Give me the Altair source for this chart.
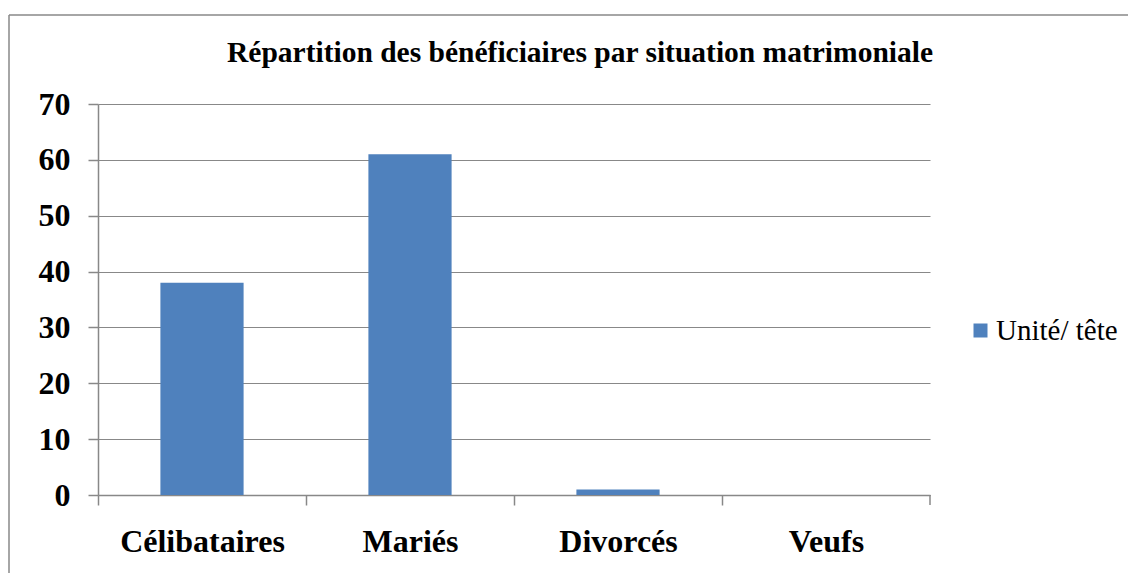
import altair as alt
import pandas as pd

categories = ["Célibataires", "Mariés", "Divorcés", "Veufs"]
values = [38, 61, 1, 0]
series = ["Unité/ tête"] * 4
title_text = "Répartition des bénéficiaires par situation matrimoniale"

df = pd.DataFrame({"cat": categories, "val": values, "serie": series})

GRAY = "#888888"
FONT = "Liberation Serif"

bars = alt.Chart(df).mark_bar(color="#4F81BD").encode(
    x=alt.X("cat:N", sort=categories,
            scale=alt.Scale(paddingInner=0.6, paddingOuter=0.3),
            axis=alt.Axis(title=None, labelAngle=0, tickOffset=-104, labelOffset=104,
                          labelFont=FONT, labelFontSize=32, labelFontWeight="bold",
                          labelColor="black", labelPadding=21, tickSize=10,
                          tickColor=GRAY, domainColor=GRAY, tickWidth=1.5,
                          domainWidth=1.5)),
    y=alt.Y("val:Q", scale=alt.Scale(domain=[0, 70]),
            axis=alt.Axis(title=None, values=[0, 10, 20, 30, 40, 50, 60, 70],
                          labelFont=FONT, labelFontSize=32, labelFontWeight="bold",
                          labelColor="black", labelPadding=18, tickSize=10,
                          tickColor=GRAY, domainColor=GRAY, gridColor=GRAY,
                          tickWidth=1.5, domainWidth=1.5, gridWidth=1.2)),
    color=alt.Color("serie:N", scale=alt.Scale(range=["#4F81BD"]),
                    legend=alt.Legend(title=None, orient="none", legendX=868,
                                      legendY=212, symbolType="square",
                                      symbolSize=196, symbolStrokeWidth=0,
                                      labelFont=FONT, labelFontSize=29,
                                      labelFontWeight="normal",
                                      labelColor="black", padding=0,
                                      labelOffset=1)),
)

end_tick = alt.Chart(pd.DataFrame({"a": [0]})).mark_rule(color=GRAY, strokeWidth=1.5).encode(
    x=alt.value(832), y=alt.value(391), y2=alt.value(401)
)
border = alt.Chart(pd.DataFrame({"a": [0]})).mark_rule(color=GRAY, strokeWidth=1.5).encode(
    x=alt.value(-89), y=alt.value(-89), y2=alt.value(700)
)
border_top = alt.Chart(pd.DataFrame({"a": [0]})).mark_rule(color=GRAY, strokeWidth=1.5).encode(
    x=alt.value(-89), x2=alt.value(1200), y=alt.value(-89)
)

chart = alt.layer(bars, end_tick, border, border_top).properties(
    width=832, height=391,
    title=alt.TitleParams(title_text, font=FONT, fontSize=29.5, fontWeight="bold",
                          color="black", anchor="middle", dx=66, offset=-54,
                          frame="group"),
    autosize=alt.AutoSizeParams(type="none"),
    padding={"left": 90, "top": 96, "right": 198, "bottom": 78},
).configure_view(stroke=None).configure_axis(grid=False).configure_axisY(grid=True
).configure_legend(labelFont=FONT, labelFontSize=29, labelColor="black")

chart.save("out.html", embed_options={"renderer": "svg", "actions": False})
